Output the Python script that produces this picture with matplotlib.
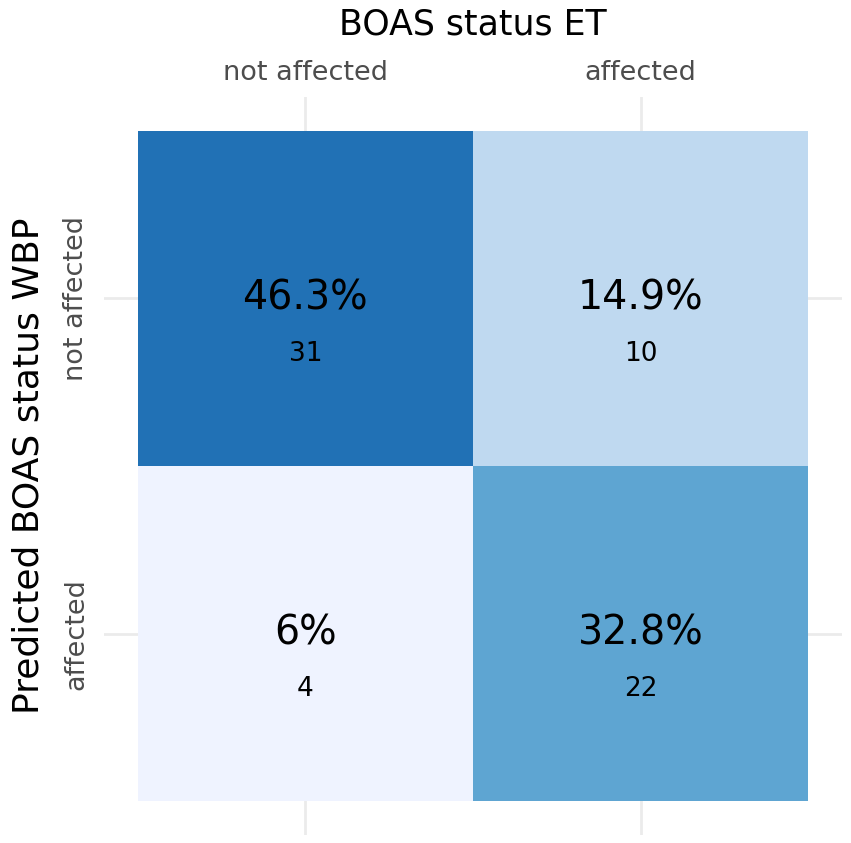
import matplotlib.pyplot as plt
import numpy as np
from matplotlib.colors import LinearSegmentedColormap

# confusion matrix: rows = predicted (WBP), cols = reference (ET)
categories = ["not affected", "affected"]
counts = [[31, 10],
          [4, 22]]
pct_labels = [["46.3%", "14.9%"],
              ["6%", "32.8%"]]

counts = np.array(counts)
pct = counts / counts.sum() * 100

cmap = LinearSegmentedColormap.from_list(
    "fillgrad", [(0.0, "#eff3ff"), (0.665, "#5ea5d2"), (1.0, "#2171b5")]
)

fig = plt.figure(figsize=(8.51, 8.43), dpi=100)
ax = fig.add_axes([0.1222, 0.0095, 0.8672, 0.8754])

x_pos = np.arange(1, len(categories) + 1)
y_pos = np.arange(1, len(categories) + 1)

# gridlines behind tiles
for x in x_pos:
    ax.axvline(x, color="#ebebeb", linewidth=2.0, zorder=0)
for y in y_pos:
    ax.axhline(y, color="#ebebeb", linewidth=2.0, zorder=0)

edges = np.arange(0.5, len(categories) + 1)
ax.pcolormesh(edges, edges, pct, cmap=cmap, vmin=pct.min(), vmax=pct.max(), zorder=1)

for i, y in enumerate(y_pos):
    for j, x in enumerate(x_pos):
        ax.text(x, y, pct_labels[i][j], ha="center", va="center",
                fontsize=28.5, color="black", zorder=3)
        ax.text(x, y + 0.165, str(counts[i, j]), ha="center", va="center",
                fontsize=19, color="black", zorder=3)

ax.set_xlim(0.4, 2.6)
ax.set_ylim(2.6, 0.4)

ax.xaxis.tick_top()
ax.set_xticks(x_pos)
ax.set_xticklabels(categories, fontsize=19.5, color="#4d4d4d")
ax.set_yticks(y_pos)
ax.set_yticklabels(categories, fontsize=19.5, color="#4d4d4d",
                   rotation=90, va="center")
ax.tick_params(axis="x", length=0, pad=8)
ax.tick_params(axis="y", length=0, pad=10.5)

ax.xaxis.set_label_position("top")
ax.set_xlabel("BOAS status ET", fontsize=25, labelpad=18)
ax.set_ylabel("Predicted BOAS status WBP", fontsize=26, labelpad=13)

for spine in ax.spines.values():
    spine.set_visible(False)

fig.savefig("out.png", dpi=100, facecolor="white")
